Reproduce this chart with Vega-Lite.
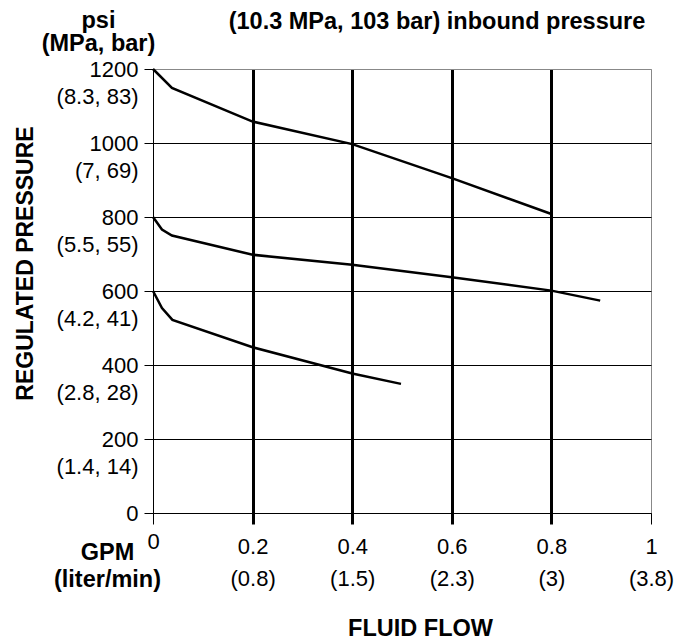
{
  "$schema": "https://vega.github.io/schema/vega-lite/v6.json",
  "width": 498,
  "height": 444,
  "autosize": {"type": "none"},
  "padding": {"left": 153, "top": 69, "right": 23, "bottom": 129},
  "background": "white",
  "config": {
    "font": "Liberation Sans",
    "view": {"stroke": "#888888", "strokeWidth": 1},
    "axis": {
      "labelFont": "Liberation Sans",
      "titleFont": "Liberation Sans",
      "labelColor": "black",
      "titleColor": "black",
      "domainColor": "black",
      "tickColor": "black"
    }
  },
  "title": {
    "text": "(10.3 MPa, 103 bar) inbound pressure",
    "fontSize": 23.5,
    "fontWeight": "bold",
    "font": "Liberation Sans",
    "color": "black",
    "anchor": "middle",
    "frame": "group",
    "dx": 35,
    "baseline": "alphabetic",
    "offset": -44
  },
  "data": {
    "values": [
      {"series": "1200", "gpm": 0, "psi": 1200},
      {"series": "1200", "gpm": 0.038, "psi": 1149},
      {"series": "1200", "gpm": 0.2, "psi": 1058},
      {"series": "1200", "gpm": 0.4, "psi": 997},
      {"series": "1200", "gpm": 0.6, "psi": 905},
      {"series": "1200", "gpm": 0.8, "psi": 808},
      {"series": "800", "gpm": 0, "psi": 800},
      {"series": "800", "gpm": 0.018, "psi": 766},
      {"series": "800", "gpm": 0.038, "psi": 750},
      {"series": "800", "gpm": 0.2, "psi": 698},
      {"series": "800", "gpm": 0.4, "psi": 671},
      {"series": "800", "gpm": 0.6, "psi": 637},
      {"series": "800", "gpm": 0.8, "psi": 601},
      {"series": "800", "gpm": 0.898, "psi": 574},
      {"series": "600", "gpm": 0, "psi": 600},
      {"series": "600", "gpm": 0.018, "psi": 554},
      {"series": "600", "gpm": 0.039, "psi": 522},
      {"series": "600", "gpm": 0.2, "psi": 448},
      {"series": "600", "gpm": 0.4, "psi": 377},
      {"series": "600", "gpm": 0.498, "psi": 349}
    ]
  },
  "layer": [
    {
      "mark": {"type": "line", "color": "black", "strokeWidth": 2.5},
      "encoding": {
        "x": {
          "field": "gpm",
          "type": "quantitative",
          "scale": {"domain": [0, 1], "nice": false},
          "axis": {
            "orient": "bottom",
            "values": [0, 0.2, 0.4, 0.6, 0.8, 1],
            "labelExpr": "datum.value == 0 ? '0' : datum.value == 0.2 ? ['0.2', '(0.8)'] : datum.value == 0.4 ? ['0.4', '(1.5)'] : datum.value == 0.6 ? ['0.6', '(2.3)'] : datum.value == 0.8 ? ['0.8', '(3)'] : ['1', '(3.8)']",
            "labelFontSize": 22,
            "labelBaseline": "top",
            "labelLineHeight": 32,
            "labelPadding": {"condition": {"test": "datum.value == 0", "value": 7.5}, "value": 12.5},
            "labelFlush": false,
            "labelOverlap": false,
            "tickSize": 11,
            "tickWidth": {"condition": {"test": "datum.value > 0.1 && datum.value < 0.9", "value": 3}, "value": 1},
            "grid": true,
            "gridColor": "black",
            "gridWidth": {"condition": {"test": "datum.value > 0.1 && datum.value < 0.9", "value": 3}, "value": 1},
            "gridOpacity": {"condition": {"test": "datum.value > 0.1 && datum.value < 0.9", "value": 1}, "value": 0},
            "domainColor": "black",
            "title": "FLUID FLOW",
            "titleFontSize": 23.5,
            "titleFontWeight": "bold",
            "titleX": 267,
            "titleY": 122,
            "titleAlign": "center",
            "titleBaseline": "alphabetic",
            "titleAnchor": null
          }
        },
        "y": {
          "field": "psi",
          "type": "quantitative",
          "scale": {"domain": [0, 1200], "nice": false},
          "axis": {
            "orient": "left",
            "values": [0, 200, 400, 600, 800, 1000, 1200],
            "labelExpr": "datum.value == 0 ? '0' : datum.value == 200 ? ['200', '(1.4, 14)'] : datum.value == 400 ? ['400', '(2.8, 28)'] : datum.value == 600 ? ['600', '(4.2, 41)'] : datum.value == 800 ? ['800', '(5.5, 55)'] : datum.value == 1000 ? ['1000', '(7, 69)'] : ['1200', '(8.3, 83)']",
            "labelFontSize": 22,
            "labelBaseline": "top",
            "labelAlign": "right",
            "labelLineHeight": 27,
            "labelOffset": -9.5,
            "labelPadding": 6,
            "labelFlush": false,
            "labelOverlap": false,
            "tickSize": 9,
            "tickWidth": 1,
            "grid": true,
            "gridColor": {"condition": {"test": "datum.value == 1200", "value": "#888888"}, "value": "black"},
            "gridWidth": 1,
            "title": "REGULATED PRESSURE",
            "titleFontSize": 23,
            "titleFontWeight": "bold",
            "titleAngle": 270,
            "titleX": -121,
            "titleY": 194,
            "titleAlign": "center",
            "titleBaseline": "alphabetic"
          }
        },
        "detail": {"field": "series"}
      }
    },
    {
      "mark": {"type": "line", "strokeOpacity": 0},
      "encoding": {
        "x": {
          "field": "gpm",
          "type": "quantitative",
          "scale": {"domain": [0, 1], "nice": false},
          "axis": {
            "orient": "top",
            "domain": false,
            "ticks": false,
            "labels": false,
            "grid": false,
            "title": ["psi", "(MPa, bar)"],
            "titleFontSize": 23.5,
            "titleFontWeight": "bold",
            "titleLineHeight": 23.5,
            "titleX": -55,
            "titleY": -61,
            "titleAlign": "center",
            "titleBaseline": "top",
            "titleAngle": 0
          }
        },
        "y": {
          "field": "psi",
          "type": "quantitative",
          "scale": {"domain": [0, 1200], "nice": false},
          "axis": {
            "orient": "right",
            "domain": false,
            "ticks": false,
            "labels": false,
            "grid": false,
            "title": ["GPM", "(liter/min)"],
            "titleFontSize": 23.5,
            "titleFontWeight": "bold",
            "titleLineHeight": 27,
            "titleX": -544,
            "titleY": 471,
            "titleAlign": "center",
            "titleBaseline": "top",
            "titleAngle": 0
          }
        },
        "detail": {"field": "series"}
      }
    }
  ],
  "resolve": {"scale": {"x": "independent", "y": "independent"}}
}
